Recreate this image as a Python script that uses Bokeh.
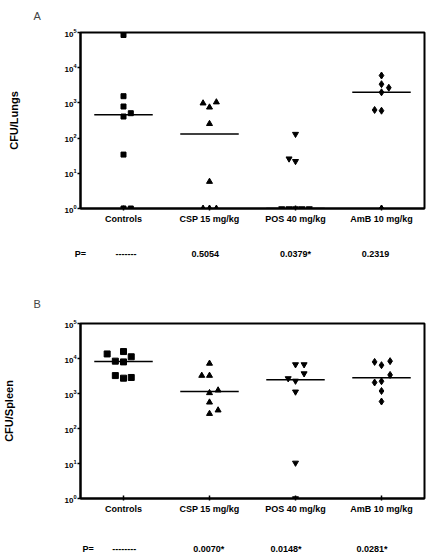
import numpy as np
from bokeh.plotting import figure
from bokeh.models import Range1d, FixedTicker, LinearAxis, LogTickFormatter
from bokeh.layouts import column
from bokeh.embed import file_html
from bokeh.resources import INLINE

# ---------------- data ----------------
groups = ["Controls", "CSP 15 mg/kg", "POS 40 mg/kg", "AmB 10 mg/kg"]
markers = ["square", "triangle", "inverted_triangle", "diamond"]

# Panel A: CFU / Lungs
lungs_controls = [85000, 1550, 790, 410, 510, 34, 1, 1]
lungs_controls_dx = [0, 0, 0, 0, 0.085, 0, 0, 0.085]
lungs_csp = [980, 750, 1050, 255, 5.8, 1, 1, 1]
lungs_csp_dx = [-0.075, 0, 0.08, 0, 0, -0.075, 0, 0.08]
lungs_pos = [130, 26, 22, 1, 1, 1, 1, 1]
lungs_pos_dx = [0, -0.075, 0, -0.16, -0.075, 0, 0.075, 0.16]
lungs_amb = [6000, 3400, 2700, 2000, 630, 600, 1]
lungs_amb_dx = [0, 0, 0.085, 0, -0.08, 0, 0]
lungs_p = ["P=", "-------", "0.5054", "0.0379*", "0.2319"]

# Panel B: CFU / Spleen
spleen_controls = [13500, 15800, 11200, 8400, 8000, 3250, 2740, 2870]
spleen_controls_dx = [-0.19, 0, 0.09, -0.095, 0, -0.095, 0, 0.09]
spleen_csp = [7200, 3250, 3250, 1240, 1040, 560, 333, 265]
spleen_csp_dx = [0, -0.09, 0, 0.1, 0, 0, 0.1, 0]
spleen_pos = [6740, 6740, 3720, 2690, 2290, 1120, 10.4, 1]
spleen_pos_dx = [0, 0.1, 0.1, -0.085, 0, 0, 0, 0]
spleen_amb = [8000, 6450, 8400, 3400, 2060, 2240, 1180, 590]
spleen_amb_dx = [-0.08, 0, 0.1, 0.1, -0.08, 0, 0, 0]
spleen_p = ["P=", "--------", "0.0070*", "0.0148*", "0.0281*"]

decade_ticks = [1, 10, 100, 1000, 10000, 100000]

FONT = "Liberation Sans"


def make_panel(series, offsets, pvals, ylabel, letter, width, height, borders,
               p_x, p_standoff, title_standoff, ylabel_standoff, msizes):
    left, right, top, bottom = borders
    p = figure(width=width, height=height, y_axis_type="log",
               x_range=Range1d(0, 4), y_range=Range1d(1, 1e5),
               output_backend="svg", toolbar_location=None,
               min_border_left=left, min_border_right=right,
               min_border_top=top, min_border_bottom=bottom,
               title=letter)
    p.title.text_font = FONT
    p.title.text_font_style = "normal"
    p.title.text_font_size = "11px"
    p.title.align = "left"
    p.title.vertical_align = "top"
    p.title.offset = -47
    p.title.standoff = title_standoff
    p.xgrid.visible = False
    p.ygrid.visible = False
    p.outline_line_color = "black"
    p.outline_line_width = 2
    p.background_fill_color = "white"
    p.border_fill_color = "white"

    for i, (vals, dx, m, ms) in enumerate(zip(series, offsets, markers, msizes)):
        xs = [i + 0.5 + d for d in dx]
        p.scatter(xs, vals, marker=m, size=ms, color="black")
        med = float(np.median(vals))
        p.segment(x0=[i + 0.5 - 0.34], x1=[i + 0.5 + 0.34], y0=[med], y1=[med],
                  line_color="black", line_width=1.5)

    # x axis (group names)
    xa = p.xaxis[0]
    xa.ticker = FixedTicker(ticks=[0.5, 1.5, 2.5, 3.5])
    xa.major_label_overrides = {0.5: groups[0], 1.5: groups[1], 2.5: groups[2], 3.5: groups[3]}
    xa.minor_tick_line_color = None
    xa.major_tick_in = 3
    xa.major_tick_out = 2
    xa.major_tick_line_width = 1.5
    xa.axis_line_width = 2
    xa.major_label_standoff = 3
    xa.major_label_text_font = FONT
    xa.major_label_text_font_style = "bold"
    xa.major_label_text_font_size = "9px"
    xa.major_label_text_color = "black"

    # second x axis: P-values row
    pa = LinearAxis(ticker=FixedTicker(ticks=p_x),
                    major_label_overrides={xv: t for xv, t in zip(p_x, pvals)})
    pa.axis_line_color = None
    pa.major_tick_line_color = None
    pa.minor_tick_line_color = None
    pa.major_tick_in = 0
    pa.major_tick_out = 0
    pa.major_label_standoff = p_standoff
    pa.major_label_text_font = FONT
    pa.major_label_text_font_style = "bold"
    pa.major_label_text_font_size = "9px"
    pa.major_label_text_color = "black"
    p.add_layout(pa, "below")

    # y axis
    ya = p.yaxis[0]
    ya.ticker = FixedTicker(ticks=decade_ticks)
    ya.formatter = LogTickFormatter()
    ya.minor_tick_line_color = None
    ya.major_tick_in = 0
    ya.major_tick_out = 3
    ya.major_tick_line_width = 1.5
    ya.axis_line_width = 2
    ya.major_label_standoff = 1
    ya.major_label_text_font = FONT
    ya.major_label_text_font_style = "bold"
    ya.major_label_text_font_size = "8px"
    ya.major_label_text_color = "black"
    ya.axis_label = ylabel
    ya.axis_label_text_font = FONT
    ya.axis_label_text_font_style = "bold"
    ya.axis_label_text_font_size = "11px"
    ya.axis_label_text_color = "black"
    ya.axis_label_standoff = ylabel_standoff
    return p


pA = make_panel([lungs_controls, lungs_csp, lungs_pos, lungs_amb],
                [lungs_controls_dx, lungs_csp_dx, lungs_pos_dx, lungs_amb_dx],
                lungs_p, "CFU/Lungs", "A", 441, 280, (77, 17, 32, 72),
                [0.0, 0.53, 1.45, 2.50, 3.43], 22, 17, 41, [5, 6, 6, 7])

pB = make_panel([spleen_controls, spleen_csp, spleen_pos, spleen_amb],
                [spleen_controls_dx, spleen_csp_dx, spleen_pos_dx, spleen_amb_dx],
                spleen_p, "CFU/Spleen", "B", 441, 279, (77, 4, 43, 61),
                [0.09, 0.51, 1.49, 2.39, 3.39], 27, 23, 46, [6, 6, 6, 7])

layout = column(pA, pB, spacing=0)
open("out.html", "w").write(file_html(layout, INLINE))
